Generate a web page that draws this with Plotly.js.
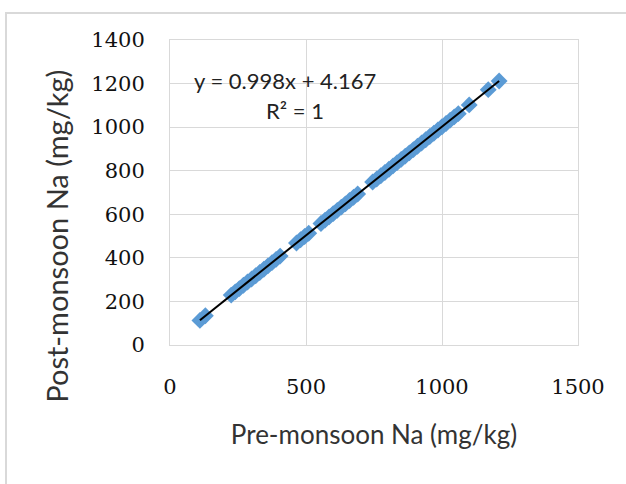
<!DOCTYPE html>
<html>
<head>
<meta charset="utf-8">
<script src="https://cdn.plot.ly/plotly-3.0.1.min.js"></script>
<style>
html,body{margin:0;padding:0;background:#fff;}
#chart{width:626px;height:484px;position:relative;}
#frame{position:absolute;left:5px;top:12px;width:640px;height:500px;border-left:2px solid #d9d9d9;border-top:2px solid #d9d9d9;pointer-events:none;}
</style>
</head>
<body>
<div id="chart"></div>
<div id="frame"></div>
<script>
const preNa = [110,130,225,240,255,270,285,300,315,330,345,360,375,390,405,465,480,495,510,555,570,585,600,615,630,645,660,675,690,745,760,775,790,805,820,835,850,865,880,895,910,925,940,955,970,985,1000,1015,1030,1045,1060,1100,1170,1210];
const postNa = [113,134,229,244,259,274,289,303,318,333,348,363,378,393,408,468,483,498,513,558,573,588,603,618,633,648,663,678,693,748,762,777,792,807,822,837,852,867,882,897,912,927,942,957,972,987,1002,1017,1032,1047,1062,1102,1172,1212];
const trendX = [110, 1210];
const trendY = [113.9, 1211.7];
const xTicks = [0,500,1000,1500];
const yTicks = [0,200,400,600,800,1000,1200,1400];
const eqText = "y = 0.998x + 4.167";
const r2Text = "R² = 1";
const xTitle = "Pre-monsoon Na (mg/kg)";
const yTitle = "Post-monsoon Na (mg/kg)";

const sans = "Lato, 'Open Sans', sans-serif";
const serif = "'DejaVu Serif', 'Liberation Serif', serif";
const traces = [
  {x: preNa, y: postNa, type:'scatter', mode:'markers',
   marker:{symbol:'diamond', size:13, color:'#5B9BD5'}, hoverinfo:'skip'},
  {x: trendX, y: trendY, type:'scatter', mode:'lines',
   line:{color:'#000', width:2}, hoverinfo:'skip'}
];
const layout = {
  width:626, height:484,
  margin:{l:170, r:48, t:40, b:139},
  paper_bgcolor:'#fff', plot_bgcolor:'#fff',
  showlegend:false,
  font:{family:sans, color:'#222', size:16},
  xaxis:{range:[0,1500], tickvals:xTicks, ticktext:xTicks.map(String),
    showgrid:true, gridcolor:'#d9d9d9', gridwidth:1,
    showline:true, linecolor:'#d9d9d9', linewidth:1, mirror:true,
    zeroline:false, ticks:'', ticklabelstandoff:23,
    tickfont:{size:21, family:serif, color:'#111'},
    title:{text:xTitle, font:{size:26, family:sans, color:'#333'}, standoff:27}},
  yaxis:{range:[0,1400], tickvals:yTicks, ticktext:yTicks.map(String),
    showgrid:true, gridcolor:'#d9d9d9', gridwidth:1,
    showline:true, linecolor:'#d9d9d9', linewidth:1, mirror:true,
    zeroline:false, ticks:'', ticklabelstandoff:20,
    tickfont:{size:21, family:serif, color:'#111'}},
  annotations:[
    {x:423, y:1216, xref:'x', yref:'y', text:eqText, showarrow:false,
     font:{size:22, family:sans, color:'#222'}},
    {x:460, y:1078, xref:'x', yref:'y', text:r2Text, showarrow:false,
     font:{size:22, family:sans, color:'#222'}},
    {x:-0.278, y:0.357, xref:'paper', yref:'paper', text:yTitle, textangle:-90,
     showarrow:false, xanchor:'center', yanchor:'middle',
     font:{size:29, family:sans, color:'#333'}}
  ]
};
Plotly.newPlot('chart', traces, layout, {staticPlot:true, displayModeBar:false});
</script>
</body>
</html>
